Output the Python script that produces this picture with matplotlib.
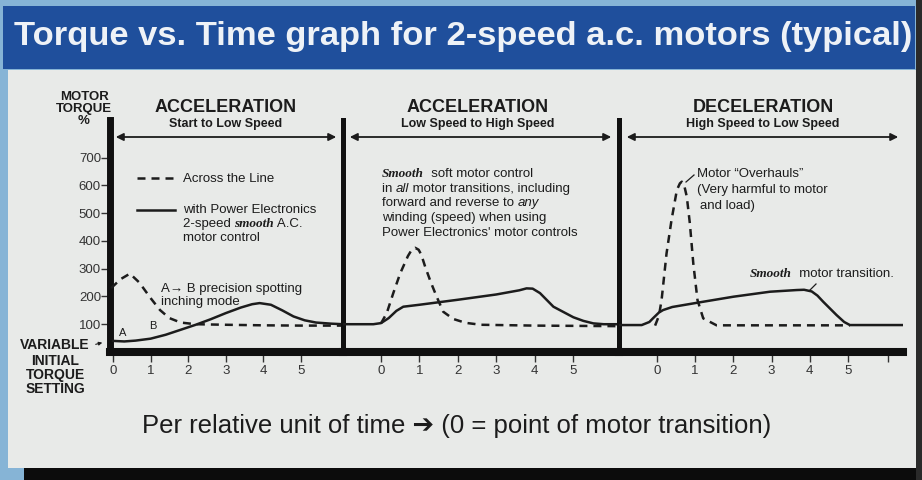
import matplotlib.pyplot as plt
from matplotlib.lines import Line2D
from matplotlib.patches import Rectangle, FancyArrowPatch

plt.rcParams['font.family'] = ['Liberation Sans', 'DejaVu Sans']

# time in relative units (0 = point of motor transition), torque in %
start_time_smooth = [0, 0.3, 0.6, 1.0, 1.4, 1.8, 2.2, 2.6, 3.0, 3.4, 3.7, 3.9, 4.2, 4.5, 4.8, 5.1, 5.4, 5.8, 6.12]
start_torque_smooth = [40, 38, 41, 48, 62, 80, 98, 118, 140, 160, 172, 176, 170, 150, 128, 114, 106, 102, 100]
start_time_line = [-0.05, 0.2, 0.45, 0.7, 1.0, 1.25, 1.5, 1.8, 2.2, 3.0, 4.0, 5.0, 6.12]
start_torque_line = [230, 262, 282, 250, 194, 151, 122, 106, 100, 98, 96, 95, 95]

high_time_smooth = [-0.99, -0.2, 0, 0.2, 0.4, 0.58, 1.0, 2.0, 3.0, 3.6, 3.79, 3.95, 4.14, 4.49, 4.75, 5.01, 5.27, 5.53, 5.8, 6.2]
high_torque_smooth = [100, 100, 104, 122, 148, 163, 170, 188, 207, 222, 229, 228, 212, 163, 144, 125, 112, 103, 100, 100]
high_time_line = [0, 0.15, 0.32, 0.5, 0.7, 0.8, 0.89, 0.98, 1.05, 1.15, 1.3, 1.45, 1.62, 1.88, 2.2, 2.6, 4.0, 6.2]
high_torque_line = [103, 140, 212, 283, 345, 368, 375, 368, 350, 307, 250, 199, 145, 119, 105, 98, 95, 93]

decel_time_smooth = [-0.99, -0.4, -0.2, -0.1, 0.05, 0.16, 0.4, 1.04, 2.0, 2.96, 3.66, 3.85, 4.05, 4.2, 4.35, 4.7, 4.9, 5.05, 6.44]
decel_torque_smooth = [97, 97, 108, 122, 142, 151, 162, 177, 199, 217, 223, 224, 218, 203, 181, 133, 108, 97, 97]
decel_time_line = [-0.05, 0.05, 0.12, 0.25, 0.38, 0.52, 0.6, 0.65, 0.72, 0.78, 0.86, 0.95, 1.06, 1.21, 1.56, 5.05]
decel_torque_line = [95, 130, 187, 355, 475, 583, 607, 613, 595, 559, 463, 319, 187, 121, 96, 96]

y_ticks = [100, 200, 300, 400, 500, 600, 700]
x_ticks = [0, 1, 2, 3, 4, 5]

INK = '#1c1c1c'
GREY = '#e8eae8'
BLUE = '#1f4f9c'
W, H = 922, 480


def fx(px):
    return px / W


def fy(py):
    return 1 - py / H


fig = plt.figure(figsize=(9.22, 4.8), dpi=100)
fig.patch.set_facecolor('#86b4d6')
for (x0, y1, w, h, c) in [(8, 468, 908, 398, GREY), (3, 69, 912, 63, BLUE),
                          (24, 480, 898, 12, '#0c0c0c'), (916, 480, 6, 480, '#2a2a2a')]:
    fig.patches.append(Rectangle((fx(x0), fy(y1)), w / W, h / H, transform=fig.transFigure,
                                 facecolor=c, edgecolor='none', zorder=-5))

fig.text(fx(463), fy(37), 'Torque vs. Time graph for 2-speed a.c. motors (typical)',
         ha='center', va='center', color='#eef2f7', fontsize=24.8, fontweight='bold')

# (left px, right px, zero px, px per unit)
panels = [(110, 343, 113, 37.6), (343, 619, 381, 38.4), (619, 903, 657, 38.2)]
series = [(start_time_smooth, start_torque_smooth, start_time_line, start_torque_line),
          (high_time_smooth, high_torque_smooth, high_time_line, high_torque_line),
          (decel_time_smooth, decel_torque_smooth, decel_time_line, decel_torque_line)]

for i, ((l, r, z, u), (ts, vs, tl, vl)) in enumerate(zip(panels, series)):
    ax = fig.add_axes([fx(l), fy(352), (r - l) / W, 232 / H])
    ax.patch.set_visible(False)
    ax.set_xlim((l - z) / u, (r - z) / u)
    ax.set_ylim(0, 835)
    ax.plot(ts, vs, color=INK, lw=1.8, solid_joinstyle='round', zorder=3)
    ax.plot(tl, vl, color=INK, lw=1.8, ls=(0, (3.2, 2.4)), zorder=3)
    for s in ['top', 'right']:
        ax.spines[s].set_visible(False)
    ax.spines['bottom'].set_linewidth(5.8)
    ax.spines['bottom'].set_color('#101010')
    ax.spines['left'].set_linewidth(5.0 if i == 0 else 3.6)
    ax.spines['left'].set_color('#101010')
    if i == 2:
        ax.set_xticks(x_ticks + [6.05])
        ax.set_xticklabels([str(t) for t in x_ticks] + [''])
    else:
        ax.set_xticks(x_ticks)
    ax.tick_params(axis='x', direction='out', length=7, width=1, color='#333333',
                   labelsize=9.5, labelcolor='#333333', pad=2.5)
    if i == 0:
        ax.set_yticks(y_ticks)
        ax.tick_params(axis='y', direction='out', length=6.5, width=1, color='#333333',
                       labelsize=9.5, labelcolor='#333333', pad=0)
    else:
        ax.set_yticks([])

# section headings and double arrows
headings = [(226, 'ACCELERATION', 'Start to Low Speed', 113, 339),
            (478, 'ACCELERATION', 'Low Speed to High Speed', 347, 614),
            (763, 'DECELERATION', 'High Speed to Low Speed', 624, 901)]
for cx, big, small, a0, a1 in headings:
    fig.text(fx(cx), fy(107), big, ha='center', va='center', color=INK, fontsize=13, fontweight='bold')
    fig.text(fx(cx), fy(124), small, ha='center', va='center', color=INK, fontsize=9, fontweight='bold')
    fig.add_artist(FancyArrowPatch((fx(a0), fy(137)), (fx(a1), fy(137)), transform=fig.transFigure,
                                   arrowstyle='<|-|>', mutation_scale=11, lw=1.3, color=INK))

fig.text(fx(84), fy(109), 'MOTOR\nTORQUE\n%', ha='center', va='center', color=INK,
         fontsize=9.5, fontweight='bold', linespacing=1.05)
fig.text(fx(55), fy(345), 'VARIABLE', ha='center', va='center', color=INK, fontsize=10, fontweight='bold')
fig.text(fx(55), fy(375), 'INITIAL\nTORQUE\nSETTING', ha='center', va='center', color=INK,
         fontsize=10, fontweight='bold', linespacing=1.0)
fig.add_artist(FancyArrowPatch((fx(93), fy(345)), (fx(105), fy(342)), transform=fig.transFigure,
                               arrowstyle='-|>', mutation_scale=5, lw=0.8, color=INK))

renderer = fig.canvas.get_renderer()
REG = {}
ITAL = {'fontstyle': 'italic'}
SCRIPT = {'fontstyle': 'italic', 'fontweight': 'bold', 'family': 'Liberation Serif'}


def rich_line(x, y, parts, size=9.5):
    x = fx(x)
    for s, style in parts:
        t = fig.text(x, fy(y), s, ha='left', va='baseline', color=INK, fontsize=size, **style)
        x = t.get_window_extent(renderer=renderer).x1 / W


# legend in first panel
fig.add_artist(Line2D([fx(137), fx(175)], [fy(178), fy(178)], transform=fig.transFigure,
                      color=INK, lw=1.8, ls=(0, (3.2, 2.4))))
fig.add_artist(Line2D([fx(137), fx(175)], [fy(210), fy(210)], transform=fig.transFigure,
                      color=INK, lw=1.8))
rich_line(183, 182, [('Across the Line', REG)])
rich_line(183, 213, [('with Power Electronics', REG)])
rich_line(183, 227, [('2-speed ', REG), ('smooth', SCRIPT), (' A.C.', REG)])
rich_line(183, 241, [('motor control', REG)])
rich_line(161, 292, [('A\u2192 B precision spotting', REG)])
rich_line(161, 305, [('inching mode', REG)])
fig.text(fx(123), fy(333), 'A', ha='center', va='center', color=INK, fontsize=8)
fig.text(fx(153), fy(326), 'B', ha='center', va='center', color=INK, fontsize=8)

# note in second panel
rich_line(382, 177, [('Smooth', SCRIPT), ('  soft motor control', REG)])
rich_line(382, 192, [('in ', REG), ('all', ITAL), (' motor transitions, including', REG)])
rich_line(382, 206, [('forward and reverse to ', REG), ('any', ITAL)])
rich_line(382, 221, [('winding (speed) when using', REG)])
rich_line(382, 236, [("Power Electronics' motor controls", REG)])

# notes in third panel
rich_line(697, 177, [('Motor \u201cOverhauls\u201d', REG)])
rich_line(697, 193, [('(Very harmful to motor', REG)])
rich_line(700, 209, [('and load)', REG)])
fig.add_artist(Line2D([fx(686), fx(694)], [fy(182), fy(175)], transform=fig.transFigure,
                      color=INK, lw=0.9))
rich_line(750, 277, [('Smooth', SCRIPT), ('  motor transition.', REG)])
fig.add_artist(Line2D([fx(810), fx(816)], [fy(290), fy(284)], transform=fig.transFigure,
                      color=INK, lw=0.9))

fig.text(fx(457), fy(426), 'Per relative unit of time \u2794 (0 = point of motor transition)',
         ha='center', va='center', color=INK, fontsize=18.5)

fig.savefig('out.png', dpi=100)
